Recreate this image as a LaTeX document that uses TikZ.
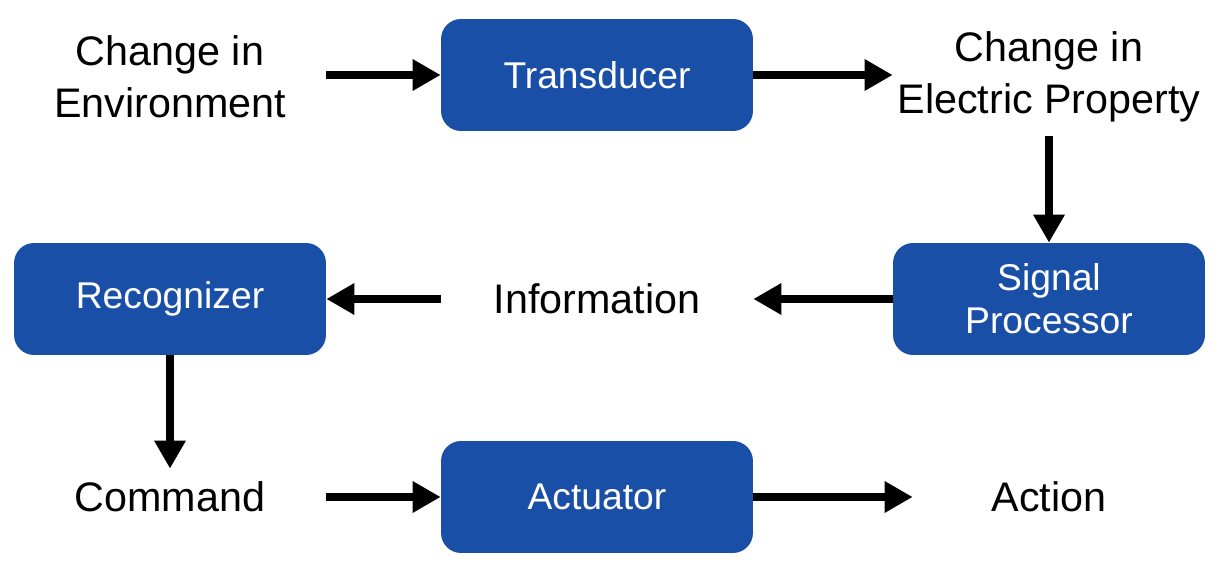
\documentclass[tikz,border=0pt]{standalone}
\usepackage{fontspec}
\setmainfont{Liberation Sans}
\usepackage{xcolor}
\usepackage{tikz}
\usetikzlibrary{arrows.meta,positioning}

\definecolor{boxblue}{RGB}{26,79,168}

\begin{document}
\begin{tikzpicture}[x=0.02cm, y=-0.02cm,
		cell/.style={minimum width=6.24cm, minimum height=2.24cm, inner sep=0pt, align=center, font=\fontsize{23.5}{29.5}\selectfont},
		block/.style={cell, fill=boxblue, rounded corners=0.4cm, text=white, font=\fontsize{21.2}{24.4}\selectfont},
		flow/.style={line width=4.6pt, -{Triangle[length=16pt,width=17pt]}}]
		\useasboundingbox (0,0) rectangle (1225,567);

		% top row
		\node[cell] (env) at (170,77) {Change in\\Environment};
		\node[block] (trans) at (597,75) {Transducer};
		\node[cell] (elec) at (1049,77) {Change in\\Electric Property};

		% middle row
		\node[block] (rec) at (170,299) {Recognizer};
		\node[cell] (info) at (597,299) {Information};
		\node[block] (sig) at (1049,299) {Signal\\Processor};

		% bottom row
		\node[cell] (cmd) at (170,497) {Command};
		\node[block] (act) at (597,497) {Actuator};
		\node[cell] (action) at (1049,497) {Action};

		\draw[flow] (env.east |- trans) -- (trans);
		\draw[flow] (trans) -- (elec.west |- trans);
		\draw[flow, shorten <=0.06cm] (elec) -- (sig);
		\draw[flow] (sig) -- (info);
		\draw[flow] (info) -- (rec);
		\draw[flow, shorten >=-0.56cm] (rec) -- (cmd);
		\draw[flow] (cmd) -- (act);
		\draw[flow, shorten >=-0.4cm] (act) -- (action);
	\end{tikzpicture}
\end{document}
